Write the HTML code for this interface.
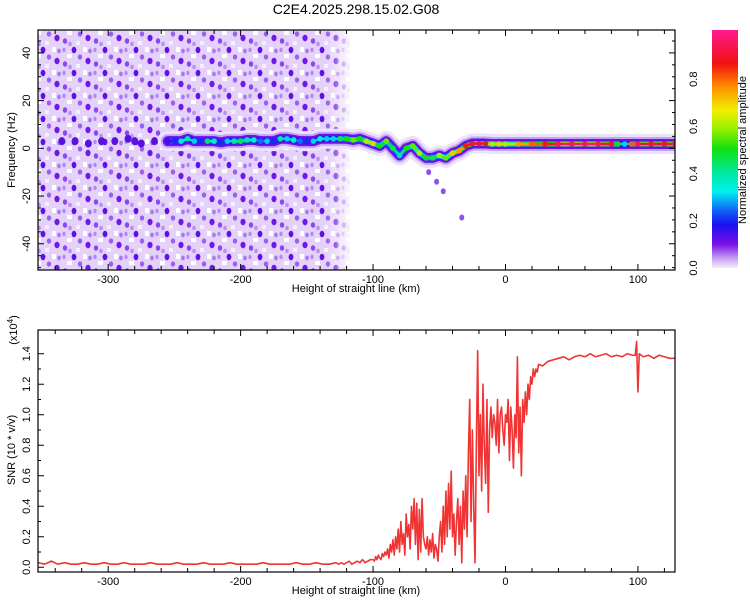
<!DOCTYPE html>
<html><head><meta charset="utf-8"><style>
body{margin:0;background:#fff;width:750px;height:600px;overflow:hidden}
text{font-family:"Liberation Sans",sans-serif;font-size:11px;fill:#000}
</style></head><body>
<svg id="chart" width="750" height="600" viewBox="0 0 750 600" xmlns="http://www.w3.org/2000/svg">
<defs>
<pattern id="noisePat" width="31" height="23" patternUnits="userSpaceOnUse">
<rect width="31" height="23" fill="#e4d2fa"/>
<rect x="5" y="8" width="5" height="4" fill="#fff"/>
<rect x="21" y="1" width="4" height="5" fill="#fff"/>
<rect x="14" y="18" width="4" height="4" fill="#f4eefd"/>
<ellipse cx="12" cy="4" rx="2.4" ry="3.2" fill="#6010e6"/>
<ellipse cx="26" cy="15" rx="2.6" ry="3.2" fill="#7018ea"/>
<ellipse cx="3" cy="18" rx="2.2" ry="2.8" fill="#8a48ee"/>
<ellipse cx="18" cy="11" rx="2.2" ry="2.6" fill="#9a60f0"/>
<ellipse cx="8" cy="21" rx="1.8" ry="2.2" fill="#b890f4"/>
<ellipse cx="28" cy="5" rx="1.8" ry="2.4" fill="#a878f2"/>
<ellipse cx="2" cy="4" rx="1.6" ry="2.2" fill="#b488f4"/>
</pattern>
<linearGradient id="cbGrad" x1="0" y1="1" x2="0" y2="0">
<stop offset="0" stop-color="#f4eefc"/><stop offset="0.04" stop-color="#c8a0f4"/>
<stop offset="0.1" stop-color="#7a10e8"/><stop offset="0.18" stop-color="#1a10f0"/>
<stop offset="0.24" stop-color="#1060f8"/><stop offset="0.32" stop-color="#00f0f0"/>
<stop offset="0.4" stop-color="#00e8a0"/><stop offset="0.5" stop-color="#10e010"/>
<stop offset="0.58" stop-color="#90f000"/><stop offset="0.66" stop-color="#f0f000"/>
<stop offset="0.76" stop-color="#ff9000"/><stop offset="0.86" stop-color="#f01010"/>
<stop offset="1" stop-color="#ff1a90"/>
</linearGradient>
<linearGradient id="fadeGrad" x1="0" y1="0" x2="1" y2="0">
<stop offset="0" stop-color="#fff" stop-opacity="0"/><stop offset="1" stop-color="#fff" stop-opacity="0.8"/>
</linearGradient>
<clipPath id="topClip"><rect x="38" y="30" width="637" height="240"/></clipPath>
<clipPath id="botClip"><rect x="38" y="330" width="637" height="242"/></clipPath>
</defs>
<text x="356" y="14" text-anchor="middle" style="font-size:14px">C2E4.2025.298.15.02.G08</text>
<g id="topPanel"></g>
<g id="botPanel"></g>
<g id="cbPanel"></g>
</svg>
<script>
const blobH=[-335,-325,-315,-305,-295,-285,-280,-275,-265];
const blobF=[3,3,2,3,3,4,3,2,3];
const ridgeH=[-255,
-250,-245,-240,-235,-230,-225,-220,-215,-210,-205,
-200,-195,-190,-185,-180,-175,-170,-165,-160,-155,
-150,-145,-140,-135,-130,-125,-120,-115,-110,-105,
-100,-95,-90,-85,-80,-75,-70,-65,-60,-55,
-50,-45,-40,-35,-30,-25,-20,-15,-10,-5,
0,10,20,30,40,50,60,70,80,85,90,95,100,110,120,128];
const ridgeF=[3,
3,3,4,3,3,3,3,2.5,3,3,
3,3.5,3.5,3,3,3,4,4,3.5,3,
3,3,4,4,4,4,4,3.5,4,3,
2,1,3,0,-3,0,1,-2,-4,-4,
-3,-4,-2,-1,1,2,2,2,1.8,1.8,
1.8,1.8,1.8,1.8,1.8,1.8,1.8,1.8,1.8,1.8,1.8,1.8,1.8,1.8,1.8,1.8];
const ridgeA=[0.15,
0.2,0.35,0.4,0.3,0.2,0.45,0.35,0.2,0.3,0.4,
0.45,0.4,0.35,0.25,0.3,0.2,0.4,0.3,0.35,0.25,
0.2,0.3,0.35,0.3,0.3,0.45,0.5,0.55,0.5,0.6,
0.7,0.5,0.55,0.45,0.4,0.5,0.55,0.6,0.5,0.45,
0.6,0.55,0.7,0.75,0.85,0.9,0.9,0.85,0.6,0.7,
0.6,0.75,0.8,0.85,0.95,0.95,0.95,0.95,0.9,0.5,0.3,0.8,0.95,0.9,0.9,0.9];
const trailH=[-58,-52,-47,-33];
const trailF=[-10,-14,-18,-29];
const snrH=[-353,-348,-343,-338,-333,-328,-323,-318,-313,-308,-303,-298,-293,-288,-283,-278,-273,-268,-263,-258,-253,-248,-243,-238,-233,-228,-223,-218,-213,-208,-203,-198,-193,-188,-183,-178,-173,-168,-163,-158,-153,-148,-143,-138,-133,-128,
-126,-124,-122,-120,-118,-116,-114,-112,-110,-108,-106,-104,-102,
-100,-99,-98,-97,-96,-95,-94,-93,-92,-91,-90,-89,-88,-87,-86,-85,-84,-83,-82,-81,-80,-79,-78,-77,-76,-75,-74,-73,-72,-71,-70,-69,-68,-67,-66,-65,-64,-63,-62,-61,-60,-59,-58,-57,-56,-55,-54,-53,-52,-51,-50,-49,-48,-47,-46,-45,-44,-43,-42,-41,-40,-39,-38,-37,-36,-35,-34,-33,-32,-31,-30,-29,-28,-27,-26,-25,-24,-23,-22,-21,-20,-19,-18,-17,-16,-15,-14,-13,-12,-11,-10,-9,-8,-7,-6,-5,-4,-3,-2,-1,0,1,2,3,4,5,6,7,8,9,10,11,12,13,14,15,16,17,18,19,20,21,22,23,24,25,
28,32,36,40,44,48,52,56,60,64,68,72,76,80,84,88,92,96,
98,99,100,101,
104,108,112,116,120,124,128];
const snrV=[0.03,0.02,0.04,0.02,0.03,0.02,0.02,0.03,0.02,0.02,
0.03,0.02,0.02,0.03,0.02,0.02,0.02,0.03,0.02,0.02,
0.02,0.03,0.02,0.02,0.02,0.03,0.02,0.02,0.02,0.03,
0.02,0.02,0.02,0.02,0.03,0.02,0.02,0.02,0.02,0.03,
0.02,0.02,0.03,0.02,0.02,0.03,
0.02,0.03,0.02,0.03,0.04,0.02,0.03,0.04,0.03,0.05,0.03,0.04,0.05,
0.05,0.04,0.07,0.05,0.08,0.06,0.05,0.09,0.07,0.1,
0.08,0.12,0.06,0.15,0.1,0.18,0.08,0.2,0.12,0.25,
0.1,0.3,0.15,0.22,0.08,0.35,0.2,0.28,0.12,0.4,
0.25,0.45,0.15,0.42,0.05,0.38,0.1,0.45,0.2,0.15,
0.12,0.2,0.08,0.18,0.1,0.22,0.06,0.15,0.12,0.04,
0.2,0.3,0.1,0.4,0.15,0.5,0.2,0.55,0.25,0.63,
0.2,0.35,0.08,0.3,0.45,0.15,0.4,0.03,0.5,0.25,
0.6,0.2,0.75,1.1,0.3,0.9,0.4,0.03,0.8,1.42,
0.6,1.0,0.5,1.2,0.8,0.55,1.1,0.36,0.9,1.05,
0.85,1.0,0.95,0.8,1.1,0.75,1.0,1.05,0.9,0.8,
1.0,0.95,1.1,0.7,1.05,0.9,0.65,1.0,0.85,1.38,
0.75,1.05,0.6,1.1,0.95,1.15,1.0,1.2,1.1,1.25,
1.2,1.3,1.25,1.3,1.28,1.33,
1.32,1.35,1.36,1.37,1.38,1.36,1.38,1.39,1.38,1.4,1.38,1.39,1.4,1.38,1.39,1.38,1.4,1.39,
1.39,1.48,1.15,1.4,
1.38,1.39,1.37,1.39,1.38,1.37,1.37];
const xTicks=[-300,-200,-100,0,100];
const fTicks=[-40,-20,0,20,40];
const snrTicks=[0,0.2,0.4,0.6,0.8,1.0,1.2,1.4];
const cbTicks=[0,0.2,0.4,0.6,0.8];

const NS='http://www.w3.org/2000/svg';
const X0=38,X1=675,HMIN=-353,HMAX=128;
const xs=h=>X0+(h-HMIN)/(HMAX-HMIN)*(X1-X0);
const TY0=30,TY1=270,FMAX=49.6,FMIN=-51;
const yf=f=>TY0+(FMAX-f)/(FMAX-FMIN)*(TY1-TY0);
const BY0=330,BY1=572,SMAX=1.4+25/160.7,SMIN=-5/160.7;
const ys=v=>BY0+(SMAX-v)/(SMAX-SMIN)*(BY1-BY0);
function mk(tag,attrs,parent){const e=document.createElementNS(NS,tag);for(const k in attrs)e.setAttribute(k,attrs[k]);parent.appendChild(e);return e;}
const cstops=[[0,[244,238,252]],[0.04,[200,160,244]],[0.1,[122,16,232]],[0.18,[26,16,240]],[0.24,[16,96,248]],[0.32,[0,240,240]],[0.4,[0,232,160]],[0.5,[16,224,16]],[0.58,[144,240,0]],[0.66,[240,240,0]],[0.76,[255,144,0]],[0.86,[240,16,16]],[1,[255,26,144]]];
function cmap(v){for(let i=1;i<cstops.length;i++){if(v<=cstops[i][0]){const a=cstops[i-1],b=cstops[i],t=(v-a[0])/(b[0]-a[0]);return 'rgb('+a[1].map((c,j)=>Math.round(c+(b[1][j]-c)*t)).join(',')+')';}}return 'rgb(255,26,144)';}

// top panel
const topG=document.getElementById('topPanel');
const tg=mk('g',{'clip-path':'url(#topClip)'},topG);
const noise=mk('rect',{x:X0,y:TY0,width:xs(-118)-X0,height:TY1-TY0,fill:'url(#noisePat)'},tg);


const fade=mk('rect',{x:xs(-135),y:TY0,width:xs(-118)-xs(-135),height:TY1-TY0,fill:'url(#fadeGrad)'},tg);


blobH.forEach((h,i)=>{
 const c=mk('ellipse',{cx:xs(h),cy:yf(blobF[i]),rx:3.5,ry:4,fill:'#5a10e0'},tg);
 
 
});
const pts=ridgeH.map((h,i)=>xs(h)+','+yf(ridgeF[i])).join(' ');
[[20,'#ece2fc'],[14,'#c4a4f6'],[10,'#6a10e8'],[6,'#2020f0']].forEach(([w,c])=>{
 const pl=mk('polyline',{points:pts,fill:'none',stroke:c,'stroke-width':w,'stroke-linejoin':'round','stroke-linecap':'round'},tg);
 
 
});
trailH.forEach((h,i)=>{
 const c=mk('ellipse',{cx:xs(h),cy:yf(trailF[i]),rx:2.5,ry:3,fill:'#7a30e8',opacity:0.85},tg);
 
 
});
[[5,0.6],[2.5,1]].forEach(([w,k])=>{
 for(let i=0;i<ridgeH.length-1;i++){
  const a=Math.min(ridgeA[i],ridgeA[i+1]);
  const seg=mk('line',{x1:xs(ridgeH[i]),y1:yf(ridgeF[i]),x2:xs(ridgeH[i+1]),y2:yf(ridgeF[i+1]),stroke:cmap(a*k),'stroke-width':w,'stroke-linecap':'round'},tg);
  
  
 }
});
ridgeH.forEach((h,i)=>{
 const c=mk('circle',{cx:xs(h),cy:yf(ridgeF[i]),r:2.8,fill:cmap(ridgeA[i])},tg);
 
 
});
function frame(parent,y0,y1,name){
 const r=mk('rect',{x:X0,y:y0,width:X1-X0,height:y1-y0,fill:'none',stroke:'#000','stroke-width':1.2},parent);
 
 
 for(let h=-340;h<=120;h+=20){const x=xs(h);const L=(h%100===0)?6:4;
  mk('line',{x1:x,y1:y1,x2:x,y2:y1-L,stroke:'#000'},parent);mk('line',{x1:x,y1:y0,x2:x,y2:y0+L,stroke:'#000'},parent);}
 xTicks.forEach(h=>{const t=mk('text',{x:xs(h),y:y1+13,'text-anchor':'middle'},parent);t.textContent=h;
  
  });
 const xl=mk('text',{x:356,y:y1+22,'text-anchor':'middle'},parent);xl.textContent='Height of straight line (km)';
 
 
}
frame(topG,TY0,TY1,'spectrogram-frame');
for(let f=-50;f<=45;f+=5){const y=yf(f);const L=f%20===0?6:3;mk('line',{x1:X0,y1:y,x2:X0+L,y2:y,stroke:'#000'},topG);mk('line',{x1:X1,y1:y,x2:X1-L,y2:y,stroke:'#000'},topG);}
fTicks.forEach(f=>{const t=mk('text',{x:30,y:yf(f),'text-anchor':'middle',transform:'rotate(-90 30 '+yf(f)+')'},topG);t.textContent=f;
 
 });
const yl=mk('text',{x:15,y:150,'text-anchor':'middle',transform:'rotate(-90 15 150)'},topG);yl.textContent='Frequency (Hz)';



// bottom panel
const botG=document.getElementById('botPanel');
const bg=mk('g',{'clip-path':'url(#botClip)'},botG);
const line=mk('polyline',{points:snrH.map((h,i)=>xs(h)+','+ys(snrV[i])).join(' '),fill:'none',stroke:'#f03434','stroke-width':1.6,'stroke-linejoin':'round'},bg);


frame(botG,BY0,BY1,'snr-frame');
for(let k=0;k<=14;k++){const v=k/10;const y=ys(v);const L=(k%2===0)?6:3;mk('line',{x1:X0,y1:y,x2:X0+L,y2:y,stroke:'#000'},botG);}
snrTicks.forEach(v=>{const t=mk('text',{x:30,y:ys(v),'text-anchor':'middle',transform:'rotate(-90 30 '+ys(v)+')'},botG);t.textContent=v.toFixed(1);
 
 });
const sl=mk('text',{x:15,y:450,'text-anchor':'middle',transform:'rotate(-90 15 450)'},botG);sl.textContent='SNR (10 * v/v)';


const ex=mk('text',{x:17,y:330,'text-anchor':'middle',transform:'rotate(-90 17 330)'},botG);


ex.appendChild(document.createTextNode('(x10'));
const sup=mk('tspan',{dy:-4,style:'font-size:8px'},ex);sup.textContent='4';
const cl2=mk('tspan',{dy:4},ex);cl2.textContent=')';

// colorbar
const cbG=document.getElementById('cbPanel');
const CB0=32,CB1=268;
const bar=mk('rect',{x:712,y:30,width:26,height:238,fill:'url(#cbGrad)'},cbG);


cbTicks.forEach(v=>{const y=CB1-v*(CB1-CB0);const t=mk('text',{x:697,y:y,'text-anchor':'middle',transform:'rotate(-90 697 '+y+')'},cbG);t.textContent=v.toFixed(1);
 
 });
const cl=mk('text',{x:746,y:150,'text-anchor':'middle',transform:'rotate(-90 746 150)'},cbG);cl.textContent='Normalized spectral amplitude';


</script>
</body></html>
